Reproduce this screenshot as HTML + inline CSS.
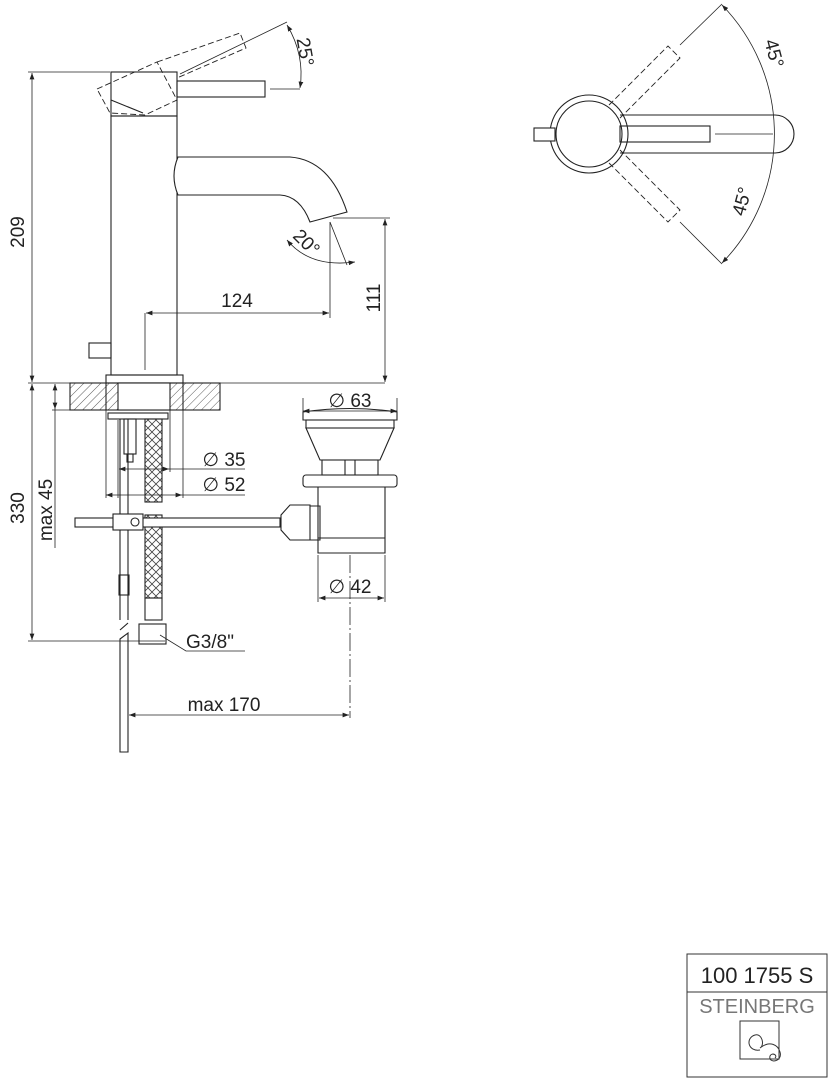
<!DOCTYPE html>
<html><head><meta charset="utf-8"><style>
html,body{margin:0;padding:0;background:#fff}
svg{display:block}
text{font-family:"Liberation Sans",sans-serif;fill:#222}
</style></head><body>
<svg width="837" height="1080" viewBox="0 0 837 1080" xmlns="http://www.w3.org/2000/svg">
<defs>
<pattern id="h" width="6" height="6" patternUnits="userSpaceOnUse" patternTransform="rotate(45)"><line x1="0" y1="0" x2="0" y2="6" stroke="#333" stroke-width="0.8"/></pattern>
<pattern id="br" width="8" height="8" patternUnits="userSpaceOnUse"><path d="M0 0L8 8M8 0L0 8" stroke="#444" stroke-width="0.8"/></pattern>
<marker id="a" markerWidth="8" markerHeight="6" refX="8" refY="3" orient="auto-start-reverse"><path d="M0 0L8 3L0 6z" fill="#222"/></marker>
</defs>
<g fill="none" stroke="#222" stroke-width="1.1">
<rect x="111" y="72" width="66" height="44" fill="#fff"/>
<rect x="111" y="116" width="66" height="259"/>
<rect x="177" y="81" width="88" height="16"/>
<path d="M111 100 L143 113"/>
<g stroke-dasharray="6,3" stroke-width="0.9">
<path d="M97 89 L157 62 L177 100 L145 115 L110 113 Z"/>
<path d="M157 62 L240 33 L246 48 L177 78"/>
</g>
<path d="M178 157 L290 157 Q330 160 347 212 L310 222 Q300 196 280 195 L178 195 Q170 176 178 157Z" fill="#fff"/>
<rect x="89" y="343" width="22" height="15"/>
<rect x="106" y="375" width="77" height="8"/>
<rect x="70" y="383" width="150" height="27" fill="url(#h)"/>
<rect x="118" y="383" width="52" height="27" fill="#fff"/>
<line x1="106" y1="383" x2="106" y2="410"/><line x1="183" y1="383" x2="183" y2="410"/>
<rect x="108" y="413" width="60" height="6"/>
<rect x="124" y="419" width="12" height="35"/>
<rect x="127" y="454" width="6" height="8"/>
<rect x="145" y="419" width="17" height="83" fill="url(#br)"/>
<rect x="145" y="515" width="17" height="83" fill="url(#br)"/>
<rect x="145" y="598" width="17" height="22"/>
<rect x="139" y="624" width="27" height="20"/>
<line x1="120" y1="419" x2="120" y2="620"/><line x1="128" y1="419" x2="128" y2="620"/>
<rect x="119" y="575" width="10" height="20"/>
<path d="M120 630 L128 623"/>
<path d="M120 639 L128 633 L128 752 L120 752 Z"/>
<rect x="75" y="518" width="205" height="9" fill="#fff"/>
<rect x="113" y="514" width="30" height="16" fill="#fff"/>
<circle cx="135" cy="522" r="4"/>
<path d="M281 515 L290 505 L310 505 L310 540 L290 540 L281 530Z" fill="#fff"/>
<path d="M310 506 L320 506 L320 540 L310 540"/>
<path d="M303 412 Q350 405 397 412 L397 420 L303 420Z"/>
<rect x="306" y="420" width="88" height="8"/>
<path d="M306 428 L394 428 L380 460 L320 460Z"/>
<rect x="322" y="460" width="56" height="15"/>
<line x1="345" y1="460" x2="345" y2="475"/><line x1="355" y1="460" x2="355" y2="475"/>
<rect x="303" y="475" width="94" height="12" rx="3"/>
<path d="M318 487 L318 553 L385 553 L385 487"/>
<line x1="318" y1="538" x2="385" y2="538"/>
</g>
<g stroke="#222" stroke-width="0.8" fill="none">
<line x1="28" y1="72" x2="110" y2="72"/>
<line x1="32" y1="73" x2="32" y2="382" marker-start="url(#a)" marker-end="url(#a)"/>
<line x1="28" y1="383" x2="385" y2="383"/>
<line x1="32" y1="384" x2="32" y2="640" marker-start="url(#a)" marker-end="url(#a)"/>
<line x1="28" y1="641" x2="165" y2="641"/>
<line x1="55" y1="384" x2="55" y2="409" marker-start="url(#a)" marker-end="url(#a)"/>
<line x1="55" y1="409" x2="55" y2="548"/><line x1="52" y1="410" x2="70" y2="410"/>
<line x1="146" y1="313" x2="329" y2="313" marker-start="url(#a)" marker-end="url(#a)"/>
<line x1="145" y1="313" x2="145" y2="370"/>
<line x1="330" y1="222" x2="330" y2="318"/>
<line x1="333" y1="218" x2="390" y2="218"/>
<line x1="385" y1="219" x2="385" y2="382" marker-start="url(#a)" marker-end="url(#a)"/>
<line x1="330" y1="222" x2="347" y2="265"/>
<path d="M287 240 Q310 268 355 262" marker-start="url(#a)" marker-end="url(#a)"/>
<line x1="270" y1="89" x2="300" y2="89"/><line x1="180" y1="74" x2="287" y2="22"/>
<path d="M287 25 Q305 55 300 88" marker-start="url(#a)" marker-end="url(#a)"/>
<line x1="119" y1="469" x2="169" y2="469" marker-start="url(#a)" marker-end="url(#a)"/>
<line x1="169" y1="469" x2="245" y2="469"/>
<line x1="106" y1="495" x2="182" y2="495" marker-start="url(#a)" marker-end="url(#a)"/>
<line x1="182" y1="495" x2="245" y2="495"/>
<line x1="118" y1="420" x2="118" y2="498"/><line x1="170" y1="410" x2="170" y2="472"/>
<line x1="106" y1="410" x2="106" y2="498"/><line x1="183" y1="410" x2="183" y2="498"/>
<line x1="303" y1="411" x2="397" y2="411" marker-start="url(#a)" marker-end="url(#a)"/>
<line x1="303" y1="398" x2="303" y2="412"/><line x1="397" y1="398" x2="397" y2="412"/>
<line x1="319" y1="598" x2="384" y2="598" marker-start="url(#a)" marker-end="url(#a)"/>
<line x1="318" y1="555" x2="318" y2="602"/><line x1="385" y1="555" x2="385" y2="602"/>
<line x1="350" y1="555" x2="350" y2="718" stroke-dasharray="18,3,2,3"/>
<line x1="129" y1="715" x2="349" y2="715" marker-start="url(#a)" marker-end="url(#a)"/>
<path d="M160 635 L186 651 L245 651"/>
</g>
<g font-size="19">
<text x="24" y="232" transform="rotate(-90 24 232)" text-anchor="middle">209</text>
<text x="24" y="508" transform="rotate(-90 24 508)" text-anchor="middle">330</text>
<text x="52" y="510" transform="rotate(-90 52 510)" text-anchor="middle">max 45</text>
<text x="380" y="298" transform="rotate(-90 380 298)" text-anchor="middle">111</text>
<text x="237" y="307" text-anchor="middle">124</text>
<text x="299" y="53" transform="rotate(80 299 53)" text-anchor="middle">25°</text>
<text x="302" y="247" transform="rotate(45 302 247)" text-anchor="middle">20°</text>
<text x="350" y="407" text-anchor="middle">∅ 63</text>
<text x="224" y="466" text-anchor="middle">∅ 35</text>
<text x="224" y="491" text-anchor="middle">∅ 52</text>
<text x="350" y="593" text-anchor="middle">∅ 42</text>
<text x="186" y="648">G3/8"</text>
<text x="224" y="711" text-anchor="middle">max 170</text>
</g>
<g fill="none" stroke="#222" stroke-width="1.1">
<circle cx="589" cy="134" r="39"/>
<rect x="534" y="128" width="21" height="13" fill="#fff"/>
<path d="M620 115 L775 115 A19 19 0 0 1 775 153 L620 153"/>
<circle cx="589" cy="134" r="33" fill="#fff"/>
<rect x="620" y="126" width="90" height="16"/>
<g stroke-dasharray="6,3" stroke-width="0.9">
<path d="M609 105 L668 46 L680 58 L620 118"/>
<path d="M609 163 L668 222 L680 210 L620 150"/>
</g>
</g>
<g stroke="#222" stroke-width="0.8" fill="none">
<line x1="680" y1="45" x2="722" y2="4"/><line x1="680" y1="222" x2="722" y2="264"/>
<path d="M722 5 A185 185 0 0 1 722 263" marker-start="url(#a)" marker-end="url(#a)"/>
<line x1="715" y1="134" x2="773" y2="134"/>
</g>
<text x="768" y="55" font-size="19" transform="rotate(75 768 55)" text-anchor="middle">45°</text>
<text x="748" y="203" font-size="19" transform="rotate(-75 748 203)" text-anchor="middle">45°</text>
<g fill="none" stroke="#333" stroke-width="1">
<rect x="687" y="954" width="140" height="123"/>
<line x1="687" y1="992" x2="827" y2="992"/>
<rect x="740" y="1021" width="39" height="38"/>
<path d="M760 1050 C748 1052 745 1038 755 1035 C762 1033 765 1045 760 1048 C770 1040 778 1045 780 1052 C783 1062 768 1064 770 1056 C772 1052 778 1055 775 1058"/>
</g>
<text x="757" y="983" font-size="22" text-anchor="middle">100 1755 S</text>
<text x="757" y="1013" font-size="20" text-anchor="middle" style="fill:#777">STEINBERG</text>
</svg>
</body></html>
